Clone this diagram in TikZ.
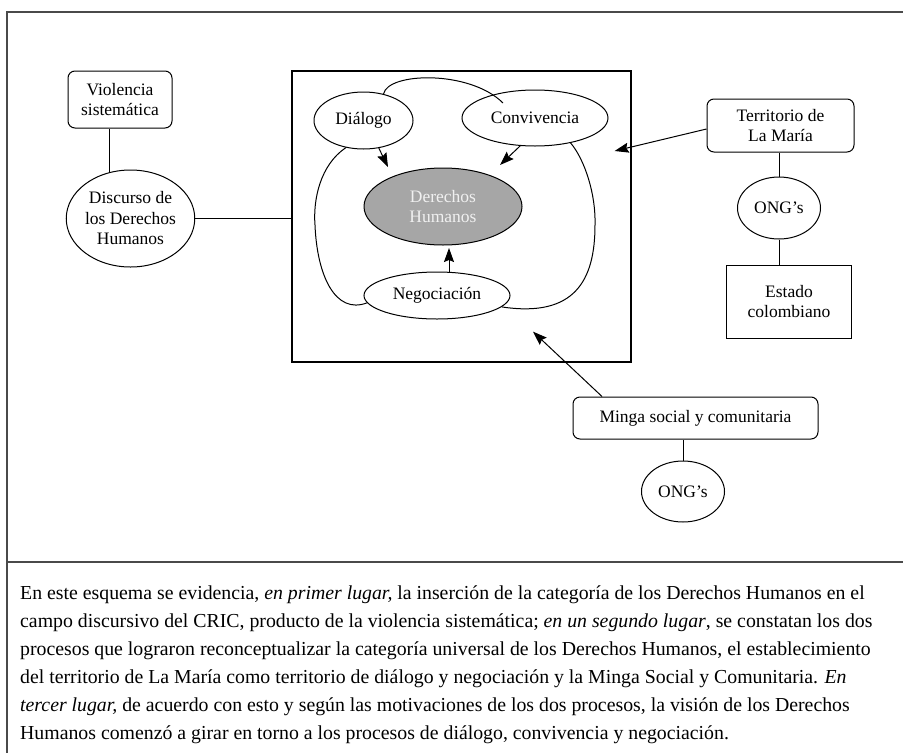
\documentclass[tikz,border=0pt]{standalone}
\usepackage{fontspec}
\setmainfont{Liberation Serif}
\usetikzlibrary{shapes.geometric,arrows.meta,calc}
\definecolor{dhfill}{HTML}{A6A6A6}
\definecolor{dhtext}{HTML}{F0F0F0}
\definecolor{framecol}{HTML}{4A4A4A}
\begin{document}
\begin{tikzpicture}[x=1pt,y=-1pt,
  lbl/.style={font=\fontsize{17.5}{20.5}\selectfont, align=center, inner sep=0pt},
  ell/.style={lbl, draw, ellipse, line width=1pt},
  rbox/.style={lbl, draw, rounded corners=7pt, line width=1pt},
  sbox/.style={lbl, draw, line width=1pt},
  link/.style={line width=1pt},
  arr/.style={line width=1pt, -{Stealth[length=14pt,width=10pt,inset=2pt]}},
  frame/.style={line width=1.5pt, draw=framecol}]
\useasboundingbox (0,0) rectangle (903,753);
\draw[frame] (903,12) -- (7,12) -- (7,753);
\draw[frame] (7,562) -- (903,562);

% left column
\node[rbox, minimum width=104, minimum height=57] (viol) at (120,99.5) {Violencia\\sistemática};
\node[ell, minimum width=127, minimum height=97] (disc) at (130.5,218.5) {Discurso de\\los Derechos\\Humanos};

% central box
\node[draw, line width=1.3pt, minimum width=339, minimum height=291, inner sep=0pt] (cbox) at (461.5,216.5) {};
\node[ell, minimum width=99, minimum height=57] (dial) at (363.5,120.5) {Diálogo};
\node[ell, minimum width=146, minimum height=56] (conv) at (535,118) {Convivencia};
\node[ell, fill=dhfill, text=dhtext, minimum width=158, minimum height=77] (dh) at (443,206.5) {Derechos\\Humanos};
\node[ell, minimum width=146, minimum height=47] (neg) at (437,295.5) {Negociación};

% right column
\node[rbox, minimum width=147, minimum height=53] (terr) at (780.5,125.5) {Territorio de\\La María};
\node[ell, minimum width=83, minimum height=62] (ong1) at (779,208) {ONG’s};
\node[sbox, minimum width=125, minimum height=73] (est) at (789,301.5) {Estado\\colombiano};
\node[rbox, minimum width=245, minimum height=42] (minga) at (695.5,418) {Minga social y comunitaria};
\node[ell, minimum width=83, minimum height=61] (ong2) at (683,491.5) {ONG’s};

% plain links
\draw[link] (disc.114) -- (disc.114 |- viol.south);
\draw[link] (disc.east) -- (disc.east -| cbox.west);
\draw[link] (ong1.north) -- (ong1.north |- terr.south);
\draw[link] (ong1.south) -- (ong1.south |- est.north);
\draw[link] (ong2.north) -- (ong2.north |- minga.south);

% curves inside the box
\draw[link] (dial.53) .. controls ($(dial.center)+(24.5,-48.5)$) and ($(dial.center)+(106.5,-50.5)$) .. ($(conv.center)+(-32,-15)$);
\draw[link] (dial.237) .. controls ($(dial.center)+(-43.5,44.5)$) and ($(dial.center)+(-50.5,79.5)$) .. ($(dial.center)+(-48.5,104.5)$)
  .. controls ($(dial.center)+(-46.5,154.5)$) and ($(dial.center)+(-28.5,194.5)$) .. (neg.186);
\draw[link] (conv.-35) .. controls ($(conv.center)+(50,42)$) and ($(conv.center)+(61,77)$) .. ($(conv.center)+(60,107)$)
  .. controls ($(conv.center)+(60,162)$) and ($(conv.center)+(40,200)$) .. (neg.-10);

% arrows
\coordinate (tipd) at ($(dh.center)+(-55,-39.5)$);
\coordinate (tipc) at ($(dh.center)+(57,-41.5)$);
\coordinate (tipn) at ($(dh.center)+(6,41.5)$);
\draw[arr] (dial.-61) -- (tipd);
\draw[arr] (conv.242) -- (tipc);
\draw[arr] ($(neg.center)+(12,-23.3)$) -- (tipn);
\coordinate (tipt) at ($(cbox.east)+(-17,-65.5)$);
\coordinate (tipm) at ($(cbox.south)+(71.5,-31)$);
\draw[arr] ($(terr.west)+(0,3.5)$) -- (tipt);
\draw[arr] ($(minga.north west)!0.12!(minga.north east)$) -- (tipm);

% caption (base anchor = baseline of the last line)
\node[anchor=base west, align=left, inner sep=0pt, font=\fontsize{19.8}{28}\selectfont] (para) at (20,739) {%
En este esquema se evidencia, \textit{en primer lugar,} la inserción de la categoría de los Derechos Humanos en el\\
campo discursivo del CRIC, producto de la violencia sistemática; \textit{en un segundo lugar}, se constatan los dos\\
procesos que lograron reconceptualizar la categoría universal de los Derechos Humanos, el establecimiento\\
del territorio de La María como territorio de diálogo y negociación y la Minga Social y Comunitaria. \textit{En}\\
\textit{tercer lugar,} de acuerdo con esto y según las motivaciones de los dos procesos, la visión de los Derechos\\
Humanos comenzó a girar en torno a los procesos de diálogo, convivencia y negociación.};
\end{tikzpicture}
\end{document}
